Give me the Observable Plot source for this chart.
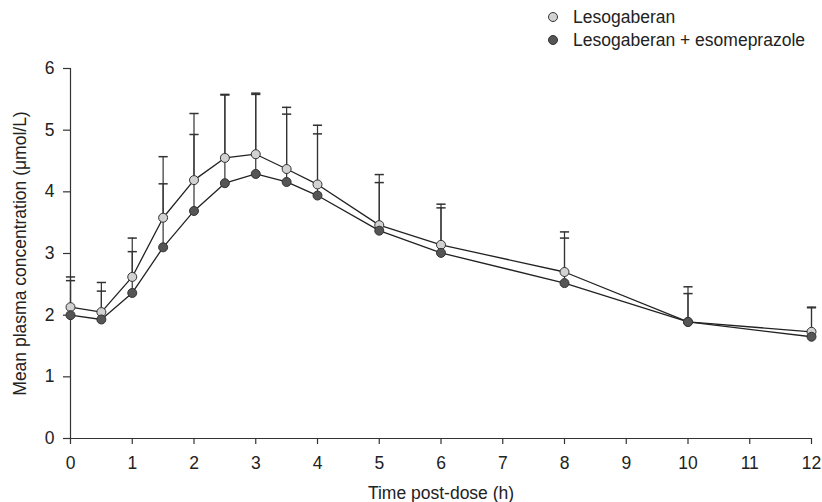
<!DOCTYPE html>
<html>
<head>
<meta charset="utf-8">
<script src="https://cdn.jsdelivr.net/npm/d3@7"></script>
<script src="https://cdn.jsdelivr.net/npm/@observablehq/plot@0.6"></script>
<style>
  html, body { margin: 0; padding: 0; background: #fff; }
  body { width: 822px; height: 502px; position: relative; font-family: "Liberation Sans", Arial, Helvetica, sans-serif; color: #333; }
  #legend { height: 50px; position: relative; }
  .item { position: absolute; left: 548px; height: 20px; display: flex; align-items: center; font-size: 17.5px; color: #222; white-space: nowrap; }
  .sw { width: 10px; height: 10px; border-radius: 50%; border: 1px solid #333; margin-right: 15px; box-sizing: border-box; flex: none; }
  #chart svg text { font-size: 17.5px; font-family: "Liberation Sans", Arial, sans-serif; }
</style>
</head>
<body>
<div id="legend"></div>
<div id="chart"></div>
<script>
const seriesNames = ["Lesogaberan", "Lesogaberan + esomeprazole"];
const seriesFills = ["#d2d2d2", "#555555"];
const times = [0, 0.5, 1, 1.5, 2, 2.5, 3, 3.5, 4, 5, 6, 8, 10, 12];
const lesoMean  = [2.13, 2.05, 2.62, 3.58, 4.19, 4.55, 4.61, 4.37, 4.12, 3.46, 3.14, 2.70, 1.89, 1.73];
const lesoUpper = [2.62, 2.53, 3.25, 4.57, 5.27, 5.58, 5.60, 5.37, 5.08, 4.28, 3.80, 3.35, 2.46, 2.13];
const esoMean   = [2.00, 1.93, 2.36, 3.10, 3.69, 4.14, 4.29, 4.16, 3.94, 3.37, 3.01, 2.52, 1.89, 1.65];
const esoUpper  = [2.56, 2.39, 3.03, 4.13, 4.93, 5.57, 5.58, 5.26, 4.94, 4.15, 3.74, 3.25, 2.35, 2.12];
const xTicks = [0, 1, 2, 3, 4, 5, 6, 7, 8, 9, 10, 11, 12];
const yTicks = [0, 1, 2, 3, 4, 5, 6];

const data = [];
[[lesoMean, lesoUpper], [esoMean, esoUpper]].forEach(([m, u], s) => {
  times.forEach((t, i) => data.push({series: seriesNames[s], t, mean: m[i], upper: u[i]}));
});

const cap = {
  draw(ctx, size) {
    const w = Math.sqrt(size / Math.PI);
    ctx.moveTo(-w, 0);
    ctx.lineTo(w, 0);
  }
};

const legend = document.getElementById("legend");
seriesNames.forEach((n, i) => {
  const d = document.createElement("div");
  d.className = "item";
  d.style.top = (7 + i * 23) + "px";
  d.innerHTML = `<span class="sw" style="background:${seriesFills[i]}"></span><span>${n}</span>`;
  legend.appendChild(d);
});

const fmt = d3.format("d");
const chart = Plot.plot({
  width: 822,
  height: 452,
  marginTop: 18,
  marginLeft: 70,
  marginRight: 11,
  marginBottom: 64,
  style: {background: "#fff"},
  x: {domain: [0, 12]},
  y: {domain: [0, 6]},
  color: {domain: seriesNames, range: seriesFills},
  marks: [
    Plot.ruleY([0], {stroke: "#333", strokeWidth: 1.2}),
    Plot.ruleX([0], {stroke: "#333", strokeWidth: 1.2}),
    Plot.axisX({ticks: xTicks, tickFormat: fmt, tickSize: 6, tickPadding: 12, stroke: "#333", strokeWidth: 1.2, fill: "#222", label: null}),
    Plot.axisX({ticks: [], label: "Time post-dose (h)", labelAnchor: "center", labelArrow: "none", labelOffset: 60, fill: "#222"}),
    Plot.axisY({ticks: yTicks, tickFormat: fmt, tickSize: 7, tickPadding: 9, stroke: "#333", strokeWidth: 1.2, fill: "#222", label: null}),
    Plot.axisY({ticks: [], label: "Mean plasma concentration (μmol/L)", labelAnchor: "center", labelArrow: "none", labelOffset: 57, fill: "#222"}),
    Plot.ruleX(data, {x: "t", y1: "mean", y2: "upper", stroke: "#333", strokeWidth: 1.2}),
    Plot.dot(data, {x: "t", y: "upper", symbol: cap, r: 4.6, stroke: "#333", strokeWidth: 1.5, fill: "none"}),
    Plot.line(data, {x: "t", y: "mean", z: "series", stroke: "#222", strokeWidth: 1.3}),
    Plot.dot(data, {x: "t", y: "mean", fill: "series", r: 4.5, stroke: "#333", strokeWidth: 1})
  ]
});
document.getElementById("chart").appendChild(chart);
</script>
</body>
</html>
